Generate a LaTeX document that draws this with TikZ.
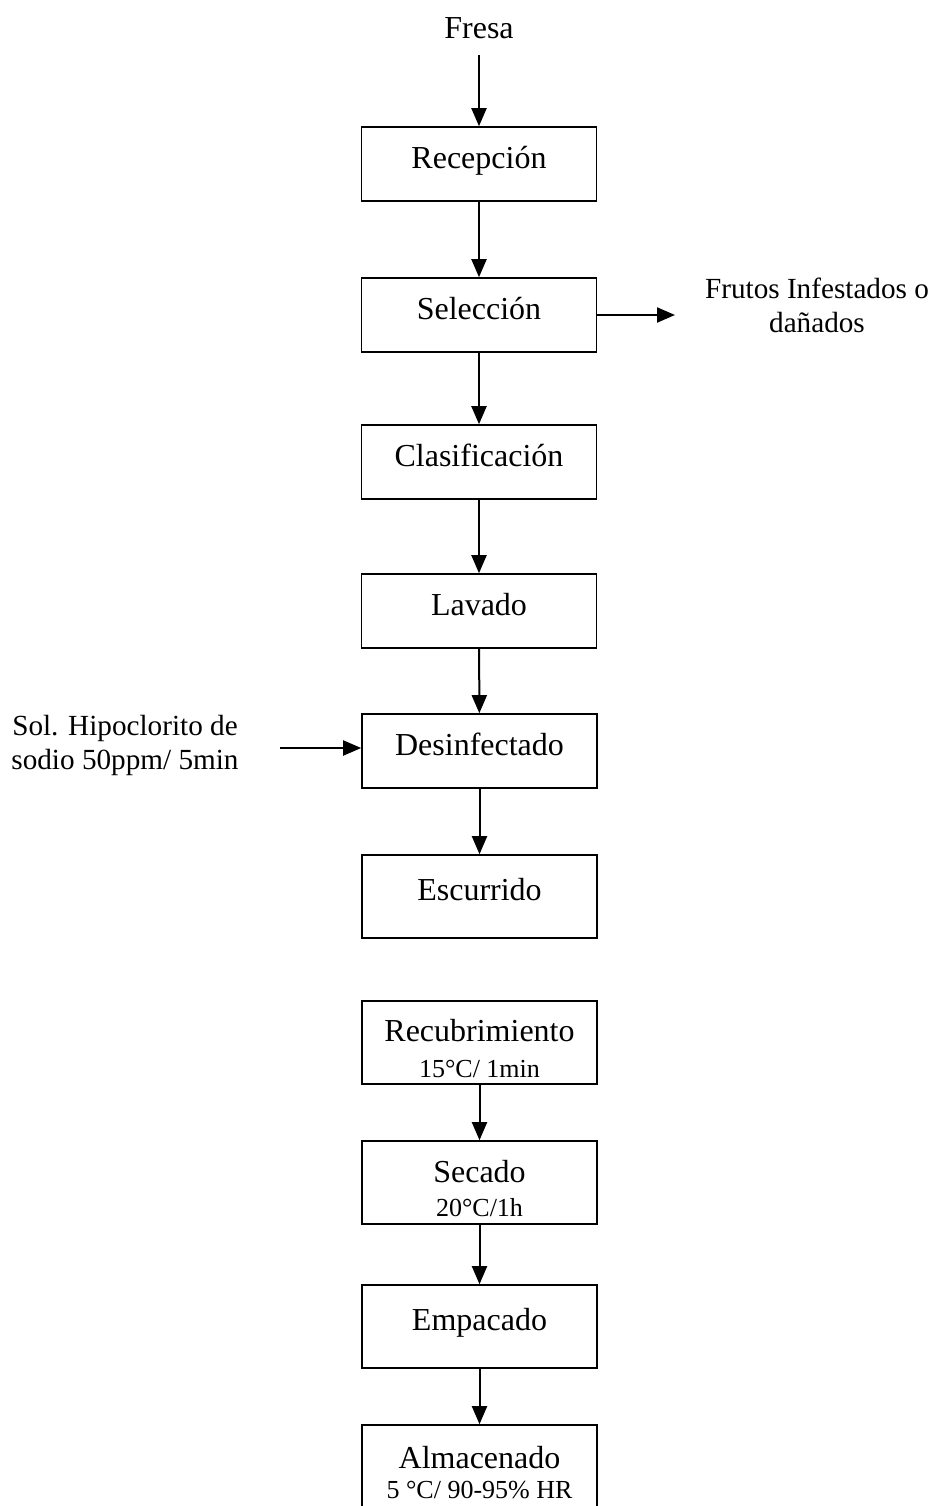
\documentclass[tikz,border=0pt]{standalone}
\usepackage{fontspec}
\setmainfont{Liberation Serif}
\usetikzlibrary{arrows.meta}

\tikzset{
  marco/.style={draw, line width=0.8pt, minimum width=117.5pt, inner sep=0pt,
    align=center, font=\fontsize{16}{19}\selectfont},
  caja/.style={marco, minimum height=37pt, text height=11pt, text depth=7pt},
  cajaalta/.style={caja, minimum height=41.5pt},
  cajados/.style={marco, minimum height=41.5pt},
  flecha/.style={line width=1pt, -{Triangle[width=7.5pt,length=9pt]}},
  rotulo/.style={align=center, font=\fontsize{14.6}{17}\selectfont}
}
\newcommand{\paso}[3][-1pt]{\rule{0pt}{17pt}#2\\[#1]{\fontsize{13}{15}\selectfont #3}}

\begin{document}
\begin{tikzpicture}[x=0.5pt,y=-0.5pt]
\useasboundingbox (0,0) rectangle (934,1506);

% Define the process steps
\node[font=\fontsize{16}{19}\selectfont] (fresa) at (479,28) {Fresa};
\node[caja] (recep) at (479,164) {Recepción};
\node[caja] (selec) at (479,315) {Selección};
\node[caja] (clasif) at (479,462) {Clasificación};
\node[caja] (lavado) at (479,611) {Lavado};
\node[caja] (desinf) at (479.5,751) {Desinfectado};
\node[cajaalta] (escurr) at (479.5,896.5) {Escurrido};
\node[cajados] (recub) at (479.5,1042.5) {\paso{Recubrimiento}{15°C/ 1min}};
\node[cajados] (secado) at (479.5,1182.5) {\paso[-2pt]{Secado}{20°C/1h}};
\node[cajaalta] (empac) at (479.5,1326.5) {Empacado};
\node[cajados] (almac) at (479.5,1466.5) {\paso[-4pt]{Almacenado}{5 °C/ 90-95\% HR}};

% Side labels
\node[rotulo] (frutos) at (817,305) {Frutos Infestados o\\dañados};
\node[rotulo] (hipo) at (125,745) {Sol. Hipoclorito de\\sodio 50ppm/ 5min};

% Free ends of the arrows
\coordinate (fresaout) at (479,55);
\coordinate (frutosin) at (675,315);
\coordinate (hipoout) at (280,748);

% Draw the vertical arrows
\draw[flecha] (fresaout) -- (recep);
\draw[flecha] (recep) -- (selec);
\draw[flecha] (selec) -- (clasif);
\draw[flecha] (clasif) -- (lavado);
\draw[flecha] (lavado) -- (desinf);
\draw[flecha] (desinf) -- (escurr);
\draw[flecha] (recub) -- (secado);
\draw[flecha] (secado) -- (empac);
\draw[flecha] (empac) -- (almac);

% Draw the side arrows
\draw[flecha] (selec.east) -- (frutosin);
\draw[flecha] (hipoout) -- (hipoout -| desinf.west);
\end{tikzpicture}
\end{document}
